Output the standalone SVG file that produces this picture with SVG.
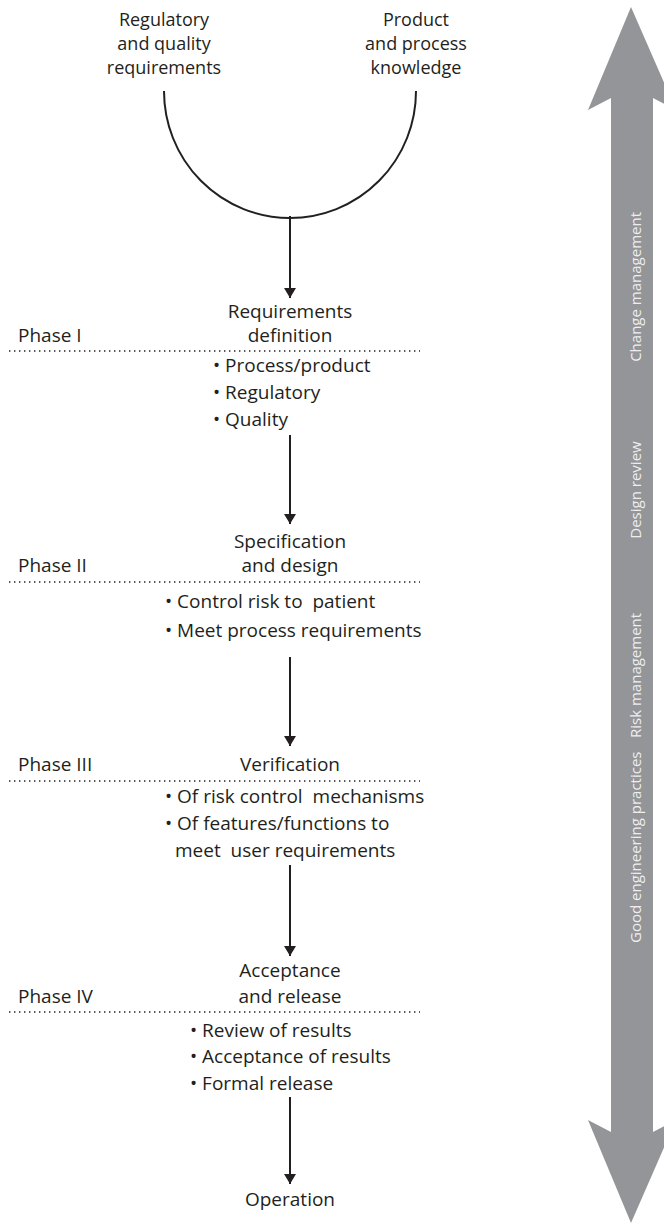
<svg xmlns="http://www.w3.org/2000/svg" width="664" height="1224" viewBox="0 0 664 1224">
<style>
.t{font-family:"Open Sans","Noto Sans","Liberation Sans",sans-serif;font-size:19px;fill:#231f20}
.s{font-size:18px}
.c{text-anchor:middle}
.dot{stroke:#231f20;stroke-width:1.3;stroke-dasharray:1.4 3.6;fill:none}
.ln{stroke:#231f20;stroke-width:2;fill:none}
.bar{font-family:"Open Sans","Noto Sans","Liberation Sans",sans-serif;font-size:15px;fill:#eeeeef}
</style>
<defs>
<marker id="ah" viewBox="0 0 10 12" refX="10" refY="6" markerWidth="10" markerHeight="12" markerUnits="userSpaceOnUse" orient="auto">
<path d="M0,0 L10,6 L0,12 Z" fill="#231f20"/>
</marker>
</defs>
<g id="side-arrow">
<polygon points="631,7 676,110 653,98 653,1132 676,1120 631,1223 588,1120 611,1132 611,98 588,110" fill="#939598"/>
<text class="bar" text-anchor="start" transform="translate(641,943) rotate(-90)">Good engineering practices</text>
<text class="bar" text-anchor="start" transform="translate(641,738) rotate(-90)">Risk management</text>
<text class="bar" text-anchor="middle" transform="translate(641,490) rotate(-90)">Design review</text>
<text class="bar" text-anchor="end" transform="translate(641,212) rotate(-90)">Change management</text>
</g>
<g id="connectors">
<path class="ln" d="M164,91 A126,127 0 0 0 416,91"/>
<line class="ln" x1="290" y1="216" x2="290" y2="298" marker-end="url(#ah)"/>
<line class="ln" x1="290" y1="435" x2="290" y2="524" marker-end="url(#ah)"/>
<line class="ln" x1="290" y1="657" x2="290" y2="746" marker-end="url(#ah)"/>
<line class="ln" x1="290" y1="865" x2="290" y2="956" marker-end="url(#ah)"/>
<line class="ln" x1="290" y1="1097" x2="290" y2="1184" marker-end="url(#ah)"/>
</g>
<g id="dividers">
<line class="dot" x1="9" y1="351" x2="420" y2="351"/>
<line class="dot" x1="9" y1="582" x2="420" y2="582"/>
<line class="dot" x1="9" y1="781" x2="420" y2="781"/>
<line class="dot" x1="9" y1="1012" x2="420" y2="1012"/>
</g>
<g id="input-regulatory">
<text class="t s c" x="164" y="26">Regulatory</text>
<text class="t s c" x="164" y="50">and quality</text>
<text class="t s c" x="164" y="74">requirements</text>
</g>
<g id="input-knowledge">
<text class="t s c" x="416" y="26">Product</text>
<text class="t s c" x="416" y="50">and process</text>
<text class="t s c" x="416" y="74">knowledge</text>
</g>
<g id="phase1">
<text class="t" x="18" y="342">Phase I</text>
<text class="t c" x="290" y="318">Requirements</text>
<text class="t c" x="290" y="342">definition</text>
<text class="t" x="213" y="372">• Process/product</text>
<text class="t" x="213" y="399">• Regulatory</text>
<text class="t" x="213" y="426">• Quality</text>
</g>
<g id="phase2">
<text class="t" x="18" y="572">Phase II</text>
<text class="t c" x="290" y="548">Specification</text>
<text class="t c" x="290" y="572">and design</text>
<text class="t" x="165" y="608" xml:space="preserve">• Control risk to  patient</text>
<text class="t" x="165" y="637">• Meet process requirements</text>
</g>
<g id="phase3">
<text class="t" x="18" y="771">Phase III</text>
<text class="t c" x="290" y="771">Verification</text>
<text class="t" x="165" y="803" xml:space="preserve">• Of risk control  mechanisms</text>
<text class="t" x="165" y="830">• Of features/functions to</text>
<text class="t" x="175" y="857" xml:space="preserve">meet  user requirements</text>
</g>
<g id="phase4">
<text class="t" x="18" y="1003">Phase IV</text>
<text class="t c" x="290" y="977">Acceptance</text>
<text class="t c" x="290" y="1003">and release</text>
<text class="t" x="190" y="1037">• Review of results</text>
<text class="t" x="190" y="1063">• Acceptance of results</text>
<text class="t" x="190" y="1090">• Formal release</text>
</g>
<g id="operation">
<text class="t c" x="290" y="1206">Operation</text>
</g>
</svg>
